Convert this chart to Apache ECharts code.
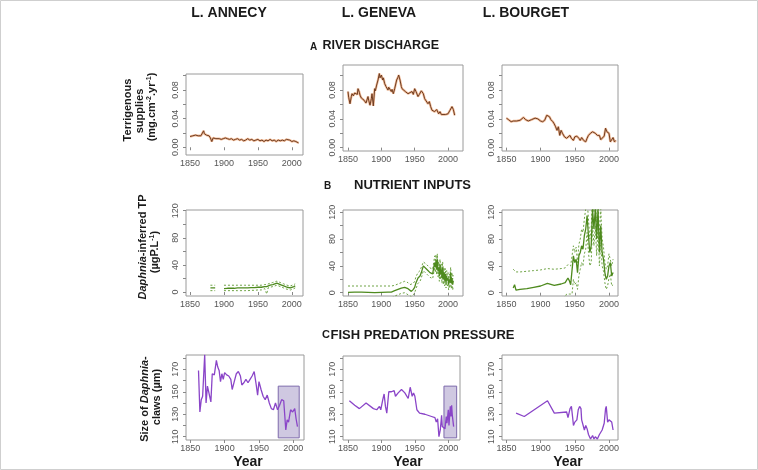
<!DOCTYPE html>
<html><head><meta charset="utf-8">
<script src="https://cdn.jsdelivr.net/npm/echarts@6/dist/echarts.min.js"></script>
<style>html,body{margin:0;padding:0;background:#fff}#c{width:758px;height:470px}</style>
</head><body><div id="c"></div>
<script>
// ---------- tick labels ----------
const xTickYears = [1850, 1900, 1950, 2000];
const yTicksA = [0, 0.02, 0.04, 0.06, 0.08, 0.1];
const yLabelsA = [0, 0.04, 0.08];
const yTicksB = [0, 20, 40, 60, 80, 100, 120];
const yLabelsB = [0, 40, 80, 120];
const yTicksC = [110, 120, 130, 140, 150, 160, 170, 180];
const yLabelsC = [110, 130, 150, 170];
const lakes = ['L. ANNECY', 'L. GENEVA', 'L. BOURGET'];

// ---------- A: river discharge (terrigenous supplies) ----------
const annecyDischYears = [1850,1852,1854,1856,1858,1860,1862,1864,1866,1868,1870,1871,1872,1874,1876,1878,1880,1882,1884,1886,1888,1890,1893,1896,1899,1902,1905,1908,1911,1914,1917,1920,1923,1926,1929,1932,1935,1938,1941,1944,1947,1950,1953,1956,1959,1962,1965,1968,1971,1974,1977,1980,1983,1986,1989,1992,1994,1997,2000,2003,2006,2008,2010];
const annecyDischVals = [0.015,0.013,0.016,0.014,0.017,0.015,0.016,0.018,0.016,0.017,0.023,0.019,0.021,0.017,0.019,0.016,0.013,0.008,0.013,0.014,0.012,0.013,0.012,0.011,0.012,0.013,0.012,0.011,0.012,0.010,0.011,0.012,0.010,0.011,0.009,0.010,0.012,0.010,0.011,0.009,0.010,0.011,0.009,0.010,0.008,0.010,0.009,0.011,0.009,0.010,0.008,0.010,0.009,0.010,0.009,0.011,0.013,0.010,0.008,0.009,0.008,0.007,0.006];

const genevaDischYears = [1850,1851,1853,1855,1856,1858,1860,1862,1864,1865,1867,1868,1870,1872,1874,1875,1877,1878,1880,1881,1883,1885,1886,1888,1890,1891,1893,1895,1897,1898,1899,1900,1902,1903,1905,1907,1908,1910,1911,1912,1915,1916,1918,1920,1923,1925,1926,1928,1930,1931,1933,1936,1938,1940,1943,1946,1948,1950,1952,1955,1957,1958,1960,1962,1963,1965,1968,1970,1972,1974,1976,1978,1980,1983,1986,1988,1990,1993,1996,2000,2003,2006,2008,2010];
const genevaDischVals = [0.078,0.070,0.061,0.071,0.075,0.072,0.076,0.078,0.074,0.082,0.077,0.073,0.069,0.071,0.066,0.068,0.062,0.064,0.071,0.066,0.059,0.068,0.075,0.058,0.082,0.079,0.087,0.094,0.103,0.097,0.099,0.101,0.094,0.097,0.089,0.085,0.087,0.080,0.084,0.085,0.078,0.081,0.075,0.082,0.094,0.098,0.101,0.094,0.085,0.082,0.080,0.078,0.080,0.075,0.076,0.078,0.074,0.082,0.078,0.071,0.074,0.075,0.079,0.077,0.075,0.068,0.066,0.061,0.064,0.057,0.052,0.054,0.050,0.053,0.047,0.050,0.046,0.045,0.046,0.047,0.052,0.057,0.053,0.045];

const bourgetDischYears = [1850,1853,1857,1860,1865,1870,1875,1878,1882,1887,1892,1896,1900,1903,1906,1909,1911,1913,1915,1918,1920,1922,1924,1926,1928,1930,1932,1935,1938,1940,1943,1945,1948,1950,1953,1956,1958,1960,1963,1966,1968,1970,1973,1976,1980,1983,1986,1988,1990,1993,1995,1997,2000,2002,2004,2006,2008,2010];
const bourgetDischVals = [0.041,0.039,0.036,0.037,0.037,0.038,0.042,0.039,0.037,0.039,0.041,0.040,0.037,0.036,0.038,0.045,0.047,0.043,0.039,0.036,0.033,0.029,0.024,0.029,0.017,0.024,0.020,0.015,0.013,0.015,0.017,0.013,0.010,0.015,0.016,0.013,0.010,0.014,0.010,0.008,0.013,0.017,0.020,0.022,0.020,0.017,0.017,0.011,0.013,0.016,0.027,0.022,0.020,0.008,0.010,0.014,0.008,0.010];

// ---------- B: nutrient inputs (Daphnia-inferred TP) ----------
const annecyTPYears = [1880,1884,1887,1893,1900,1905,1910,1915,1920,1925,1930,1935,1940,1945,1950,1955,1960,1963,1965,1968,1970,1972,1975,1978,1980,1983,1985,1988,1990,1993,1995,1998,2000,2003,2005];
const annecyTPMean  = [6,6,6,null,5,5.5,5.5,5.5,6,6,6,6,6.5,6.5,7,7,8,8,9,10,11,11,12,13,12,11,10,9,8,7,7,6,7,8,9];
const annecyTPUpper = [10,10,10,null,10,10,10,10,10,10,10,10,10,10,10,10,11,11,12,13,14,14,15,16,15,14,13,12,11,10,10,9,10,11,12];
const annecyTPLower = [2,2,2,null,2,2,2,2,2,2,2,2,2.5,2.5,3,3,5,-3,6,7,8,8,9,10,9,8,7,6,5,4,4,3,4,5,6];

const genevaTPYears = [1850,1860,1870,1880,1890,1900,1910,1915,1920,1925,1930,1935,1940,1943,1945,1948,1950,1952,1955,1958,1960,1963,1965,1968,1970,1973,1975,1977,1979,1980,1981,1982,1983,1984,1985,1986,1987,1988,1989,1990,1991,1992,1993,1994,1995,1996,1997,1998,1999,2000,2001,2002,2003,2004,2005,2006,2007,2008];
const genevaTPMean  = [0.5,1,1,0.5,0,0.5,1,1,3,5,7,8,6,4,2,5,8,15,22,25,30,40,38,35,33,30,29,28,40,45,38,48,35,50,32,38,25,42,28,35,22,38,20,30,18,28,15,25,18,22,12,20,15,30,14,22,12,18];
const genevaTPUpper = [10,10,10,10,10,10,10,10,11,13,15,17,15,12,11,14,17,24,30,33,38,46,45,42,40,37,36,35,48,55,46,57,43,58,40,46,33,50,36,43,30,46,28,38,26,36,23,33,26,30,20,28,23,38,22,30,20,26];
const genevaTPLower = [-9,-9,-9,-9,-9,-9,-9,-8,-5,-3,-1,0,-3,-4,-6,-3,0,6,14,17,22,33,31,28,26,23,22,21,32,37,30,40,27,42,24,30,17,34,20,27,14,30,12,22,10,20,7,17,10,14,4,12,7,22,6,14,4,10];

const bourgetTPYears = [1860,1862,1864,1870,1880,1890,1900,1910,1920,1930,1936,1938,1940,1942,1944,1946,1948,1950,1952,1954,1956,1958,1960,1962,1964,1966,1968,1970,1972,1974,1976,1978,1980,1982,1984,1986,1988,1990,1992,1994,1996,1998,2000,2002,2004,2006];
const bourgetTPMean  = [7,12,4,5,6,8,10,14,11,13,15,15,22,18,12,10,55,45,50,30,55,60,70,65,85,95,115,85,60,70,125,95,125,80,125,60,100,60,50,30,20,25,40,45,25,30];
const bourgetTPUpper = [35,34,31,31,32,33,34,36,35,36,37,38,42,41,40,40,70,60,68,45,72,80,95,90,110,125,140,110,80,95,150,120,150,105,150,80,125,80,68,45,35,40,58,60,40,50];
const bourgetTPLower = [-20,-18,-22,-20,-20,-18,-15,-10,-12,-10,-6,-2,0,-2,-1,-2,20,12,15,5,25,35,45,40,58,65,90,60,40,45,100,70,100,55,100,40,75,40,32,15,5,10,22,28,10,12];

// ---------- C: fish predation pressure (size of Daphnia claws) ----------
const annecyClawYears = [1862,1864,1866,1868,1871,1873,1875,1877,1880,1882,1885,1888,1890,1892,1894,1896,1898,1900,1903,1906,1909,1911,1914,1917,1920,1923,1925,1928,1931,1934,1937,1940,1943,1946,1948,1950,1953,1956,1959,1962,1965,1968,1971,1974,1977,1980,1983,1986,1989,1991,1993,1996,1999,2002,2004,2006];
const annecyClawVals  = [169,132,143,146,183,140,155,156,141,166,165,178,172,169,159,166,161,167,165,164,161,152,159,166,168,164,156,158,161,158,161,164,168,156,147,159,152,146,143,147,140,135,134,140,134,138,143,142,116,125,123,134,132,135,126,119];
const annecyShade = [1978, 2008.5, 109, 155];

const genevaClawYears = [1852,1860,1867,1877,1888,1893,1897,1899,1902,1904,1906,1908,1911,1915,1919,1921,1925,1930,1935,1940,1943,1946,1948,1950,1953,1957,1965,1975,1980,1982,1984,1986,1988,1990,1991,1993,1995,1997,1998,2000,2001,2002,2003,2004,2005,2006,2008];
const genevaClawVals  = [142,138,135,140,135,134,137,134,143,148,137,131,150,150,151,146,149,152,149,144,154,146,149,146,134,131,130,128,127,123,126,110,116,129,119,120,117,128,122,134,120,129,137,128,138,129,119];
const genevaShade = [1993.5, 2012.5, 109, 155];

const bourgetClawYears = [1864,1876,1910,1920,1938,1940,1943,1945,1947,1948,1950,1953,1955,1957,1959,1960,1962,1964,1966,1968,1970,1973,1976,1978,1980,1983,1986,1988,1990,1993,1995,1996,1998,2000,2002,2004,2006];
const bourgetClawVals  = [131,128,142,131,132,127,135,137,126,120,123,125,134,137,135,125,126,116,120,117,112,108,111,108,110,108,112,113,116,122,135,137,123,125,126,123,116];

// ---------- layout ----------
const FONT = '"Liberation Sans", Arial, Helvetica, sans-serif';
const panels = [
  {box:[186,74,117,81], x:[1844,2016.5], y:[-0.0108,0.1023], ticks:yTicksA, labels:yLabelsA, dec:2},
  {box:[343,65,120,86], x:[1842.5,2022.5], y:[-0.0047,0.1149], ticks:yTicksA, labels:yLabelsA, dec:2},
  {box:[502,65,116,86], x:[1843.6,2013.2], y:[-0.0047,0.1149], ticks:yTicksA, labels:yLabelsA, dec:2},
  {box:[186,210,117,86], x:[1844,2016.5], y:[-5.9,121], ticks:yTicksB, labels:yLabelsB, dec:0},
  {box:[343,210,120,86], x:[1842.5,2022.5], y:[-4.9,123.4], ticks:yTicksB, labels:yLabelsB, dec:0},
  {box:[502,210,116,86], x:[1843.6,2013.2], y:[-4.9,123.4], ticks:yTicksB, labels:yLabelsB, dec:0},
  {box:[186,355,118,85], x:[1843.8,2015.5], y:[107.1,182.7], ticks:yTicksC, labels:yLabelsC, dec:0},
  {box:[343,356,117,84], x:[1842.5,2017.5], y:[107.1,181.8], ticks:yTicksC, labels:yLabelsC, dec:0},
  {box:[502,355,116,85], x:[1843.4,2013.2], y:[107.1,182.7], ticks:yTicksC, labels:yLabelsC, dec:0}
];

const zip = (xs, vs) => xs.map((x, i) => [x, vs[i]]);

const grid = [], xAxis = [], yAxis = [], series = [];
panels.forEach((p, i) => {
  grid.push({left:p.box[0], top:p.box[1], width:p.box[2], height:p.box[3], show:true,
    borderColor:'#9a9a9a', borderWidth:1, backgroundColor:'#fff', containLabel:false});
  xAxis.push({type:'value', gridIndex:i, min:p.x[0], max:p.x[1],
    axisLine:{show:false}, splitLine:{show:false},
    axisTick:{show:true, inside:false, length:3, customValues:xTickYears, lineStyle:{color:'#888'}},
    axisLabel:{customValues:xTickYears, fontSize:9, color:'#555', fontFamily:FONT, margin:4,
      formatter: v => String(Math.round(v))}});
  yAxis.push({type:'value', gridIndex:i, min:p.y[0], max:p.y[1],
    axisLine:{show:false}, splitLine:{show:false},
    axisTick:{show:true, inside:false, length:3, customValues:p.ticks, lineStyle:{color:'#888'}},
    axisLabel:{customValues:p.labels, fontSize:9, color:'#555', fontFamily:FONT, margin:6, rotate:90,
      formatter: v => Number(v).toFixed(p.dec)}});
});

function line(idx, data, color, width, type, extra) {
  return Object.assign({type:'line', xAxisIndex:idx, yAxisIndex:idx, data:data, showSymbol:false,
    symbol:'none', clip:true, animation:false, silent:true,
    lineStyle:{color:color, width:width, type:type || 'solid'}}, extra || {});
}

// Row A
const dischSets = [[annecyDischYears, annecyDischVals],[genevaDischYears, genevaDischVals],[bourgetDischYears, bourgetDischVals]];
dischSets.forEach((s, i) => {
  series.push(line(i, zip(s[0], s[1]), 'rgba(235,160,110,0.7)', 2.4));
  series.push(line(i, zip(s[0], s[1]), '#6f3d22', 1));
});
// Row B
const tpSets = [[annecyTPYears, annecyTPMean, annecyTPUpper, annecyTPLower],
                [genevaTPYears, genevaTPMean, genevaTPUpper, genevaTPLower],
                [bourgetTPYears, bourgetTPMean, bourgetTPUpper, bourgetTPLower]];
tpSets.forEach((s, i) => {
  series.push(line(3+i, zip(s[0], s[2]), '#6ea344', 1, [2,2]));
  series.push(line(3+i, zip(s[0], s[3]), '#6ea344', 1, [2,2]));
  series.push(line(3+i, zip(s[0], s[1]), '#4e8a1e', 1.3));
});
// Row C
function shade(r) {
  return {silent:true, itemStyle:{color:'rgba(195,186,218,0.8)', borderColor:'#7d6aab', borderWidth:1},
    data:[[{coord:[r[0], r[2]]},{coord:[r[1], r[3]]}]]};
}
series.push(line(6, zip(annecyClawYears, annecyClawVals), '#8a45c8', 1.3, 'solid', {markArea:shade(annecyShade)}));
series.push(line(7, zip(genevaClawYears, genevaClawVals), '#8a45c8', 1.3, 'solid', {markArea:shade(genevaShade)}));
series.push(line(8, zip(bourgetClawYears, bourgetClawVals), '#8a45c8', 1.3));

// ---------- texts ----------
const T = (x, y, text, size, opts) => Object.assign({type:'text', x:x, y:y, silent:true,
  style:Object.assign({text:text, font:'bold ' + size + 'px ' + FONT, fill:'#1a1a1a', align:'center', verticalAlign:'middle'}, (opts||{}).style||{})},
  (opts||{}).el||{});

const graphic = [
  {type:'rect', shape:{x:0.5, y:0.5, width:757, height:469}, style:{fill:'none', stroke:'#cfcfcf', lineWidth:1}, silent:true},
  T(229, 13, lakes[0], 14), T(379, 13, lakes[1], 14), T(526, 13, lakes[2], 14),
  T(310, 47, 'A', 10, {style:{align:'left'}}), T(322.5, 46, 'RIVER DISCHARGE', 12.5, {style:{align:'left'}}),
  T(324, 186, 'B', 10, {style:{align:'left'}}), T(354, 185, 'NUTRIENT INPUTS', 13, {style:{align:'left'}}),
  T(322, 335, 'C', 11, {style:{align:'left'}}), T(330.5, 335, 'FISH PREDATION PRESSURE', 13, {style:{align:'left'}}),
  T(128, 110, 'Terrigenous', 11, {el:{rotation:Math.PI/2}}),
  T(140, 111, 'supplies', 11, {el:{rotation:Math.PI/2}}),
  {type:'text', x:152, y:107, rotation:Math.PI/2, silent:true,
   style:{text:'(mg.cm{s|-2}.yr{s|-1})', font:'bold 11px ' + FONT, fill:'#1a1a1a', align:'center', verticalAlign:'middle',
     rich:{s:{font:'bold 7px ' + FONT, fill:'#1a1a1a', verticalAlign:'top', padding:[0,0,5,0]}}}},
  {type:'text', x:143, y:247, rotation:Math.PI/2, silent:true,
   style:{text:'{i|Daphnia}-inferred TP', font:'bold 11px ' + FONT, fill:'#1a1a1a', align:'center', verticalAlign:'middle',
     rich:{i:{font:'italic bold 11px ' + FONT, fill:'#1a1a1a'}}}},
  {type:'text', x:155, y:252, rotation:Math.PI/2, silent:true,
   style:{text:'(µgP.L{s|-1})', font:'bold 11px ' + FONT, fill:'#1a1a1a', align:'center', verticalAlign:'middle',
     rich:{s:{font:'bold 7px ' + FONT, fill:'#1a1a1a', verticalAlign:'top', padding:[0,0,5,0]}}}},
  {type:'text', x:145, y:399, rotation:Math.PI/2, silent:true,
   style:{text:'Size of {i|Daphnia}-', font:'bold 11px ' + FONT, fill:'#1a1a1a', align:'center', verticalAlign:'middle',
     rich:{i:{font:'italic bold 11px ' + FONT, fill:'#1a1a1a'}}}},
  T(157, 397, 'claws (µm)', 11, {el:{rotation:Math.PI/2}}),
  T(248, 462, 'Year', 14), T(408, 462, 'Year', 14), T(568, 462, 'Year', 14)
];

const chart = echarts.init(document.getElementById('c'), null, {renderer:'canvas'});
chart.setOption({animation:false, backgroundColor:'#fff', grid, xAxis, yAxis, series, graphic});
</script>
</body></html>
